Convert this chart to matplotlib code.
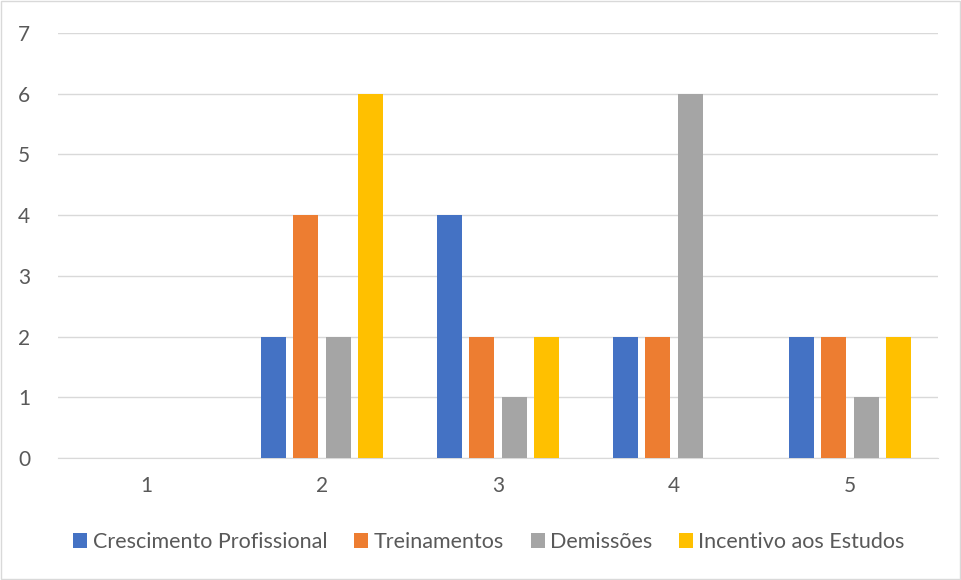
import matplotlib
matplotlib.use("Agg")
import matplotlib.pyplot as plt
import numpy as np
from matplotlib.patches import Rectangle

categories = ["1", "2", "3", "4", "5"]
crescimento = [0, 2, 4, 2, 2]
treinamentos = [0, 4, 2, 2, 2]
demissoes = [0, 2, 1, 6, 1]
incentivo = [0, 6, 2, 0, 2]
series_names = ["Crescimento Profissional", "Treinamentos", "Demissões", "Incentivo aos Estudos"]
colors = ["#4472C4", "#ED7D31", "#A5A5A5", "#FFC000"]

plt.rcParams['font.family'] = ['Lato', 'DejaVu Sans']

fig = plt.figure(figsize=(9.62, 5.80), dpi=100)
ax = fig.add_axes([58/962, 1-458/580, 880/962, 425/580])

x = np.arange(len(categories))
step = 0.182
width = 0.142
for i, (vals, name, c) in enumerate(zip([crescimento, treinamentos, demissoes, incentivo], series_names, colors)):
    ax.bar(x + (i - 1.5) * step, vals, width, color=c, label=name, zorder=3)

ax.set_xlim(-0.5, 4.5)
ax.set_ylim(0, 7)
ax.set_yticks(range(0, 8))
ax.set_xticks(x)
ax.set_xticklabels(categories)
ax.grid(axis='y', color='#D9D9D9', linewidth=1, zorder=0)
for s in ['top', 'right', 'left']:
    ax.spines[s].set_visible(False)
ax.spines['bottom'].set_color('#D9D9D9')
ax.tick_params(axis='both', length=0, labelsize=15, colors='#595959')
ax.tick_params(axis='x', pad=13)
ax.tick_params(axis='y', pad=20)

leg = fig.legend(loc='center', bbox_to_anchor=(489/962, 1-542/580), ncol=4, frameon=False,
                 fontsize=15.5, handlelength=0.65, handleheight=0.65, handletextpad=0.25,
                 columnspacing=1.25)
for t in leg.get_texts():
    t.set_color('#595959')

fig.patches.append(Rectangle((0.001, 0.001), 0.997, 0.997, transform=fig.transFigure,
                             fill=False, edgecolor='#D9D9D9', linewidth=1))

fig.savefig("out.png", dpi=100, facecolor='white')
